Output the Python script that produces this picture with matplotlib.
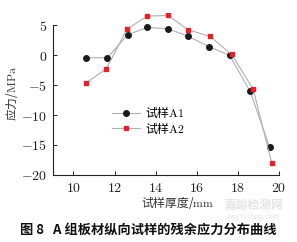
import numpy as np
import matplotlib
matplotlib.use("Agg")
import matplotlib.pyplot as plt
from matplotlib.ticker import FuncFormatter

plt.rcParams['font.family'] = ['Noto Sans CJK SC', 'DejaVu Sans']
plt.rcParams['mathtext.fontset'] = 'cm'

# thickness (mm) and residual stress (MPa)
x_a1 = [10.6, 11.65, 12.65, 13.6, 14.6, 15.6, 16.6, 17.6, 18.6, 19.55]
y_a1 = [-0.45, -0.45, 3.4, 4.6, 4.4, 3.1, 1.4, -0.05, -6.05, -15.4]
x_a2 = [10.6, 11.6, 12.6, 13.6, 14.6, 15.6, 16.65, 17.7, 18.75, 19.65]
y_a2 = [-4.7, -2.3, 4.3, 6.5, 6.6, 4.2, 3.1, 0.1, -5.7, -18.0]
xticks = [10, 12, 14, 16, 18, 20]
yticks = [-20, -15, -10, -5, 0, 5]

fig = plt.figure(figsize=(2.97, 2.42), dpi=100)
ax = fig.add_axes([0.178, 0.277, 0.761, 0.669])

ax.plot(x_a1, y_a1, color='#b0b0b0', lw=0.8, marker='o', ms=4,
        mfc='#1a1a1a', mec='#1a1a1a', label=r'试样$\mathrm{A1}$')
ax.plot(x_a2, y_a2, color='#b0b0b0', lw=0.8, marker='s', ms=3.5,
        mfc='#e8202a', mec='#e8202a', label=r'试样$\mathrm{A2}$')

ax.set_xlim(9, 20)
ax.set_ylim(-20, 7)
ax.set_xticks(xticks)
ax.set_yticks(yticks)
fmt = FuncFormatter(lambda v, p: r'$%g$' % v)
ax.xaxis.set_major_formatter(fmt)
ax.yaxis.set_major_formatter(fmt)
ax.tick_params(direction='in', length=3, width=0.7, labelsize=10, colors='#222222', pad=4)

for s in ['top', 'right']:
    ax.spines[s].set_visible(False)
ax.spines['left'].set_bounds(-20, 5)
ax.spines['bottom'].set_bounds(9, 20)
for s in ['left', 'bottom']:
    ax.spines[s].set_linewidth(0.8)
    ax.spines[s].set_color('#222222')

ax.set_ylabel(r'应力/$\mathrm{MPa}$', fontsize=8.5, color='#333333', labelpad=1)
ax.set_xlabel(r'试样厚度/$\mathrm{mm}$', fontsize=8.5, color='#333333', labelpad=2)
ax.xaxis.set_label_coords(0.55, -0.115)

ax.legend(loc='lower left', bbox_to_anchor=(0.23, 0.2), frameon=False,
          fontsize=8.5, handlelength=2.4, handletextpad=0.4, labelspacing=0.05,
          borderpad=0.1)

fig.text(0.5, 0.05, r'图 8   A 组板材纵向试样的残余应力分布曲线',
         ha='center', va='center', fontsize=9.5, fontweight='bold', color='#111111')
# faint watermark
fig.text(0.855, 0.15, '嘉峪检测网', ha='center', va='center', fontsize=8.5,
         color='#e4e4e4', fontweight='bold', zorder=0)
fig.text(0.855, 0.105, 'AnyTesting.com', ha='center', va='center', fontsize=5,
         color='#e4e4e4', style='italic', zorder=0)

fig.savefig('out.png', dpi=100)
